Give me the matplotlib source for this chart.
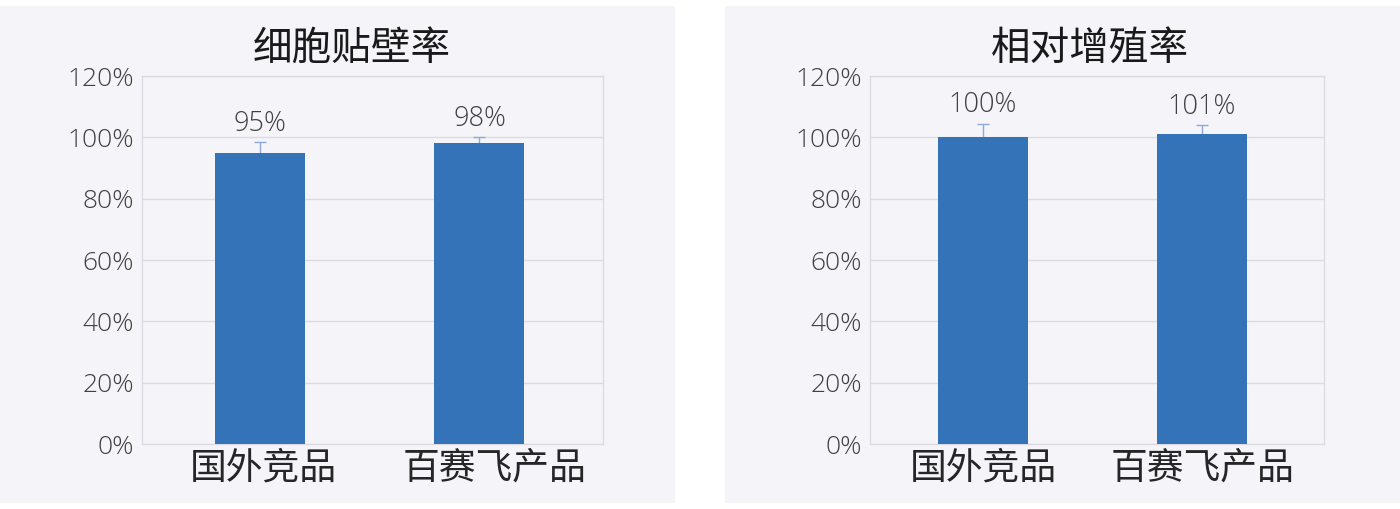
import matplotlib
matplotlib.use('Agg')
from matplotlib import pyplot as plt
from matplotlib.patches import Rectangle
from matplotlib import ticker

plt.rcParams['font.family'] = ['Open Sans', 'Noto Sans CJK SC', 'DejaVu Sans']

categories = ['国外竞品', '百赛飞产品']
titles = ['细胞贴壁率', '相对增殖率']
values = [[95, 98], [100, 101]]
errors = [[3.5, 2.0], [4.5, 3.0]]
y_ticks = [0, 20, 40, 60, 80, 100, 120]

bar_color = '#3573b9'
err_color = '#8eaadb'
bg_color = '#f5f4f9'
grid_color = '#dcdbe4'
text_color = '#404040'

W, H = 1400, 509
fig = plt.figure(figsize=(W / 100, H / 100), dpi=100)
fig.patch.set_facecolor('white')

# panel backgrounds (pixel boxes)
for x0, x1 in [(0, 675), (725, 1400)]:
    fig.patches.append(Rectangle((x0 / W, (H - 503) / H), (x1 - x0) / W, 497 / H,
                                 transform=fig.transFigure, facecolor=bg_color,
                                 edgecolor='none', zorder=-10))

# axes boxes in pixels: left, right, xlim
boxes = [(142, 603, (-0.538, 1.563)), (870, 1324, (-0.516, 1.557))]
title_x = [352, 1090]
# small horizontal nudge of category labels (points), as in the original
label_shift = [[2, 11], [0, 0]]
top_px, bot_px = 76, 444

for i in range(2):
    l, r, xl = boxes[i]
    ax = fig.add_axes([l / W, (H - bot_px) / H, (r - l) / W, (bot_px - top_px) / H])
    ax.set_facecolor('none')
    x = range(len(categories))
    # error bars sit behind the bars, so only the upper half shows
    ax.errorbar(x, values[i], yerr=errors[i], fmt='none',
                ecolor=err_color, elinewidth=1, capsize=4, capthick=1, zorder=2)
    ax.bar(x, values[i], width=0.41, color=bar_color, zorder=3)
    for xi, v, e in zip(x, values[i], errors[i]):
        ax.annotate(f'{v}%', (xi, v + e), xytext=(0, 3), textcoords='offset points',
                    ha='center', va='bottom', fontsize=19.5, color=text_color,
                    fontweight='light')
    ax.set_xlim(*xl)
    ax.set_ylim(0, 120)
    ax.set_yticks(y_ticks)
    ax.yaxis.set_major_formatter(ticker.FuncFormatter(lambda v, p: f'{v:.0f}%'))
    ax.set_xticks(list(x))
    ax.set_xticklabels([])
    for xi, cat, dx in zip(x, categories, label_shift[i]):
        ax.annotate(cat, (xi, 0), xycoords=('data', 'axes fraction'),
                    xytext=(dx, -3), textcoords='offset points', ha='center', va='top',
                    family=['Noto Sans CJK SC'], fontsize=26.5, color='#262626',
                    fontweight='light', annotation_clip=False)
    ax.tick_params(axis='y', length=0, pad=6, labelsize=19, labelcolor=text_color)
    ax.tick_params(axis='x', length=0)
    for lab in ax.get_yticklabels():
        lab.set_fontweight('light')
    ax.grid(axis='y', color=grid_color, linewidth=1, zorder=0)
    for s in ax.spines.values():
        s.set_color(grid_color)
        s.set_linewidth(1)
    fig.text(title_x[i] / W, (H - 49) / H, titles[i], ha='center', va='center',
             family=['Noto Sans CJK SC'], fontsize=28.5, color='#1a1a1a')

fig.savefig('out.png', dpi=100, facecolor='white')
